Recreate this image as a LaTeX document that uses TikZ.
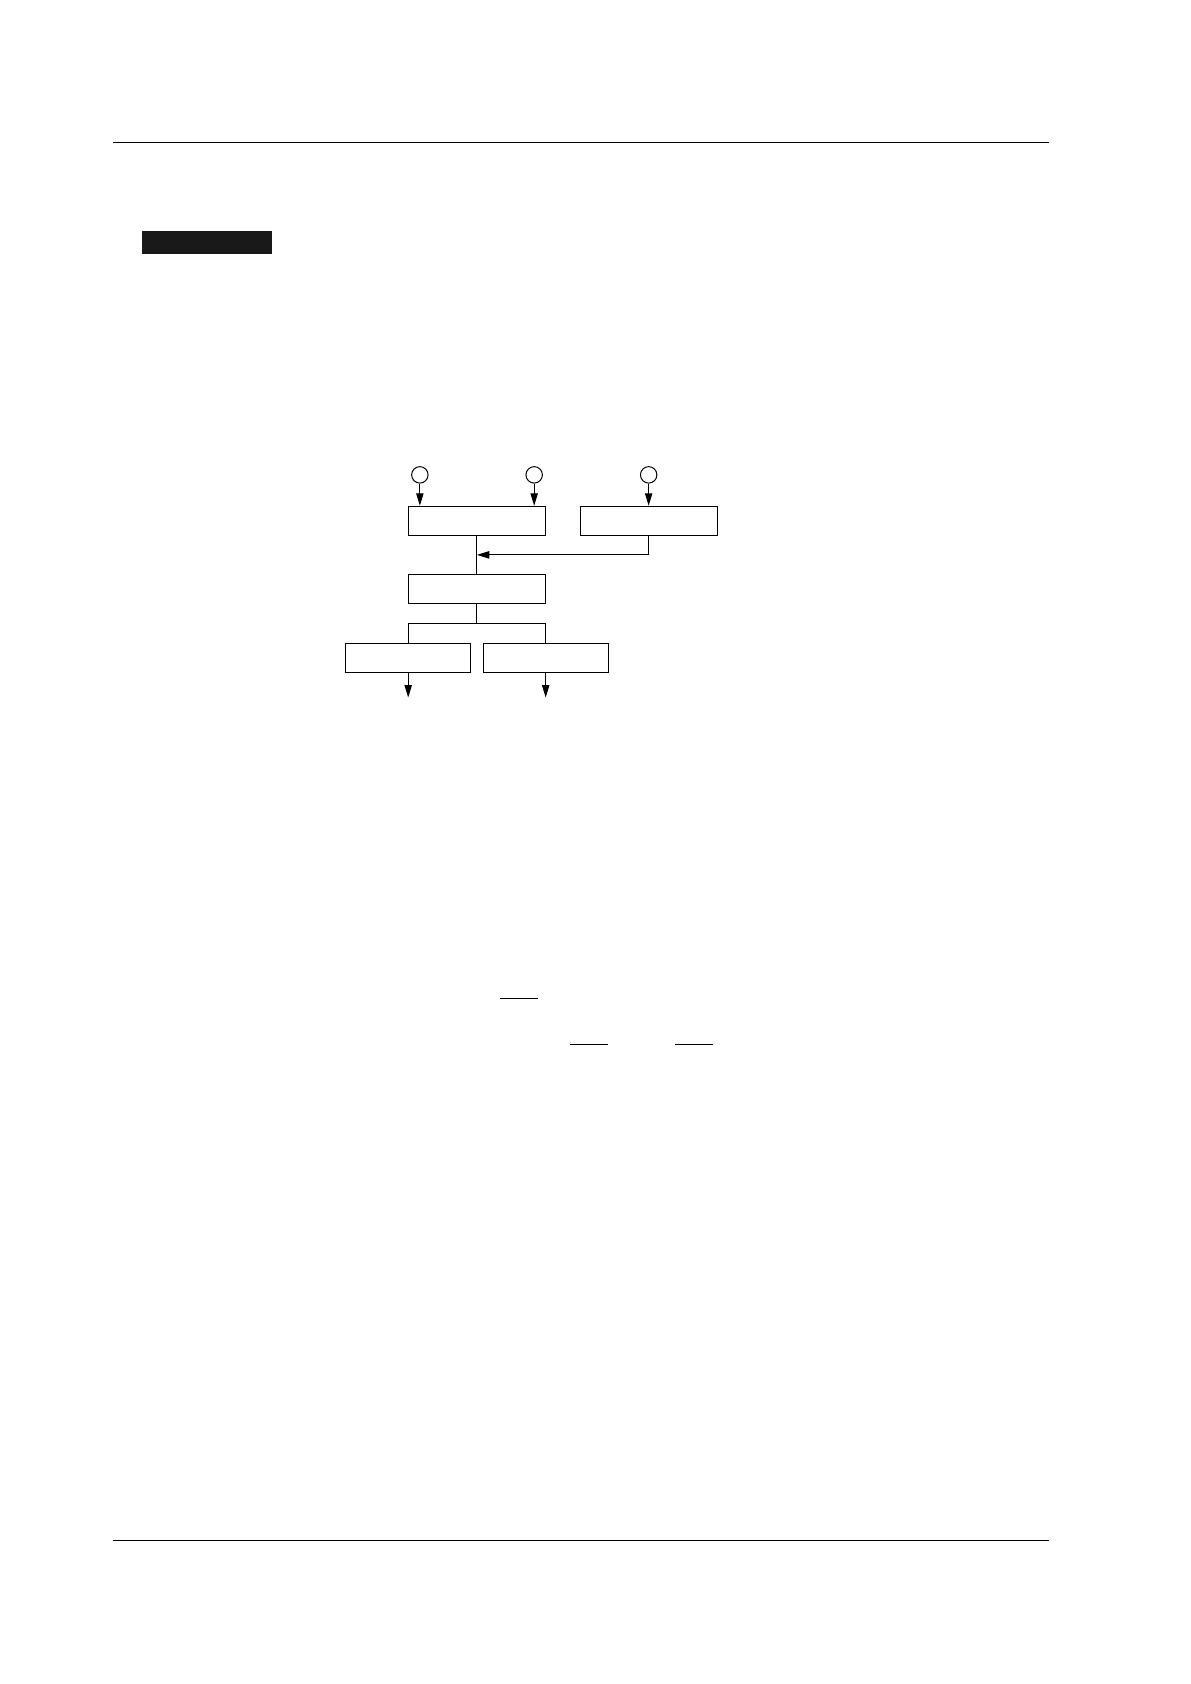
\documentclass[tikz,border=0pt]{standalone}
\usepackage{tikz}
\usetikzlibrary{arrows.meta,positioning}

\begin{document}
\begin{tikzpicture}[
  box/.style={draw, line width=0.5pt, minimum width=2.42cm, minimum height=0.51cm, inner sep=0pt},
  smallbox/.style={box, minimum width=2.21cm, minimum height=0.5cm},
  port/.style={circle, draw, line width=0.5pt, minimum size=0.29cm, inner sep=0pt},
  >={Triangle[length=0.22cm, width=0.13cm]},
  node distance=1.2cm
  ]
  \useasboundingbox (0,0) rectangle (21,-29.7);

  % Page rules and heading bar
  \draw[line width=0.6pt] (2.0,-2.509) -- (18.5,-2.509);
  \draw[line width=0.6pt] (2.0,-27.165) -- (18.5,-27.165);
  \fill[black!90] (2.504,-4.073) rectangle (4.796,-4.473);

  % Blocks
  \node[box] (mix) at (8.41,-9.183) {};
  \node[box, right of=mix, node distance=3.03cm] (aux) {};
  \node[box, below of=mix, node distance=1.206cm] (proc) {};
  \node[smallbox, below of=proc, node distance=1.218cm, xshift=-1.211cm] (outl) {};
  \node[smallbox, below of=proc, node distance=1.218cm, xshift=1.214cm] (outr) {};

  % Inputs
  \node[port, above of=mix, node distance=0.808cm, xshift=-1.005cm] (in1) {};
  \node[port, above of=mix, node distance=0.808cm, xshift=1.011cm] (in2) {};
  \node[port, above of=aux, node distance=0.808cm] (in3) {};

  % Junctions and free ends
  \coordinate[below of=mix, node distance=0.603cm] (fb);
  \coordinate[below of=proc, node distance=0.613cm] (split);
  \coordinate[below of=outl, node distance=0.695cm] (out1);
  \coordinate[below of=outr, node distance=0.695cm] (out2);

  % Connections
  \begin{scope}[line width=0.5pt]
  \draw[->] (in1) -- (in1 |- mix.north);
  \draw[->] (in2) -- (in2 |- mix.north);
  \draw[->] (in3) -- (aux);
  \draw (mix) -- (proc);
  \draw[->] (aux) |- (fb);
  \draw (proc) -- (split);
  \draw (outl) |- (split) -| (outr);
  \draw[->] (outl) -- (out1);
  \draw[->] (outr) -- (out2);
  \end{scope}

  % Overbars
  \draw[line width=0.5pt] (8.816,-17.602) -- (9.481,-17.602);
  \draw[line width=0.5pt] (10.05,-18.413) -- (10.715,-18.413);
  \draw[line width=0.5pt] (11.902,-18.413) -- (12.566,-18.413);
\end{tikzpicture}
\end{document}
